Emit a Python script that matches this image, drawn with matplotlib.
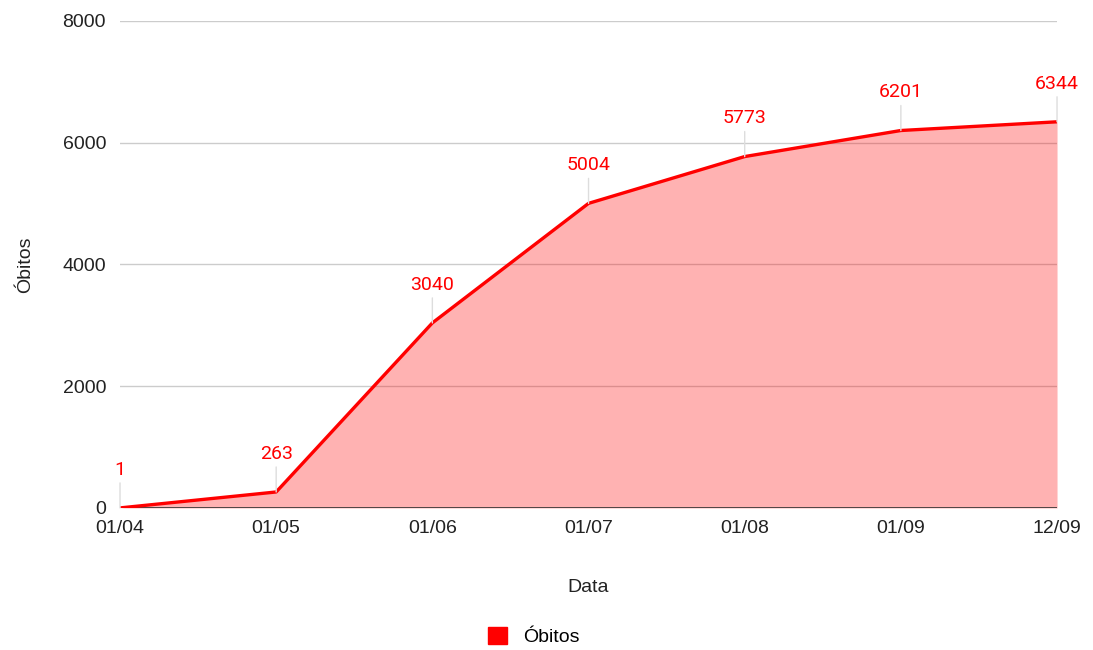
import matplotlib.pyplot as plt
import numpy as np

plt.rcParams['font.family'] = ['Liberation Sans', 'DejaVu Sans']

datas = ['01/04', '01/05', '01/06', '01/07', '01/08', '01/09', '12/09']
obitos = [1, 263, 3040, 5004, 5773, 6201, 6344]

fig = plt.figure(figsize=(10.93, 6.5), dpi=100)
ax = fig.add_axes([0.1098, 0.2185, 0.8573, 0.7492])

x = np.arange(len(datas))
ax.fill_between(x, obitos, 0, color='#ff0000', alpha=0.3, lw=0, zorder=2)
ax.plot(x, obitos, color='#ff0000', lw=2.4, zorder=4, solid_joinstyle='round')

for xi, v in zip(x, obitos):
    ax.annotate(str(v), xy=(xi, v), xytext=(0, 21), textcoords='offset points',
                ha='center', va='bottom', color='#ff0000', fontsize=14,
                family=['Roboto', 'DejaVu Sans'],
                arrowprops=dict(arrowstyle='-', color='#dddddd', lw=1,
                                shrinkA=1, shrinkB=0), zorder=5)

ax.set_xlim(0, len(datas) - 1)
ax.set_ylim(0, 8000)
ax.set_yticks([0, 2000, 4000, 6000, 8000])
ax.set_xticks(x)
ax.set_xticklabels(datas)
ax.grid(axis='y', color='#cccccc', lw=1, zorder=1)
ax.set_axisbelow(True)
ax.axhline(0, color='#333333', lw=1.2, zorder=3)
for s in ax.spines.values():
    s.set_visible(False)
ax.tick_params(length=0, labelsize=14, colors='#222222')
ax.tick_params(axis='x', pad=9)
ax.tick_params(axis='y', pad=10)

ax.set_xlabel('Data', fontsize=14, color='#222222')
ax.set_ylabel('Óbitos', fontsize=14, color='#222222')
ax.xaxis.set_label_coords(0.5, -0.164)
ax.yaxis.set_label_coords(-0.101, 0.5)
ax.xaxis.label.set_va('center')
ax.yaxis.label.set_va('center')

fig.legend([plt.Rectangle((0, 0), 1, 1, color='#ff0000')], ['Óbitos'],
           loc='center', bbox_to_anchor=(0.488, 0.021), frameon=False,
           fontsize=14, handlelength=1.0, handleheight=1.0)

fig.savefig('out.png', dpi=100)
